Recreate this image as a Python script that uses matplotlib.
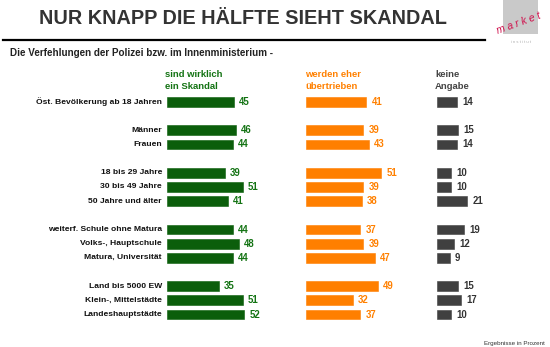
import matplotlib.pyplot as plt

plt.rcParams['font.family'] = ['Liberation Sans', 'DejaVu Sans']

# Zeilen (leere Strings = Abstand zwischen den Gruppen)
kategorien = ["Öst. Bevölkerung ab 18 Jahren", "",
              "Männer", "Frauen", "",
              "18 bis 29 Jahre", "30 bis 49 Jahre", "50 Jahre und älter", "",
              "weiterf. Schule ohne Matura", "Volks-, Hauptschule", "Matura, Universität", "",
              "Land bis 5000 EW", "Klein-, Mittelstädte", "Landeshauptstädte"]
skandal = [45, None, 46, 44, None, 39, 51, 41, None, 44, 48, 44, None, 35, 51, 52]
uebertrieben = [41, None, 39, 43, None, 51, 39, 38, None, 37, 39, 47, None, 49, 32, 37]
keine_angabe = [14, None, 15, 14, None, 10, 10, 21, None, 19, 12, 9, None, 15, 17, 10]

W, H = 550, 347
fig = plt.figure(figsize=(W / 100, H / 100), dpi=100)


def fx(x):
    return x / W


def fy(y):
    return 1 - y / H


# Titel, Linie, Untertitel
fig.text(fx(242.5), fy(18), "NUR KNAPP DIE HÄLFTE SIEHT SKANDAL", ha='center', va='center',
         fontsize=14.3, fontweight='bold', color='#333333')
fig.add_artist(plt.Line2D([fx(3), fx(485)], [fy(39.5), fy(39.5)], color='black', lw=1.6))
fig.text(fx(10), fy(53), "Die Verfehlungen der Polizei bzw. im Innenministerium -", ha='left', va='center',
         fontsize=7.1, fontweight='bold', color='#222222')

# Logo
fig.add_artist(plt.Rectangle((fx(503), fy(34)), fx(35), 34 / H, color='#c9c9c9', lw=0))
fig.text(fx(519), fy(23), "m a r k e t", ha='center', va='center', fontsize=7.5, style='italic',
         color='#d0104c', rotation=20)
fig.text(fx(521), fy(42), "i n s t i t u t", ha='center', va='center', fontsize=3, color='#aaaaaa')

spalten = [
    (skandal, 167, 1.49, '#0b5e0b', '#137313', "sind wirklich\nein Skandal", 165),
    (uebertrieben, 305.7, 1.48, '#ff7f00', '#ff8000', "werden eher\nübertrieben", 305),
    (keine_angabe, 436.7, 1.45, '#404040', '#333333', "keine\nAngabe", 435),
]

top, bottom = 94.9, 321.6
n = len(kategorien)
for idx, (werte, links, skala, farbe, textfarbe, kopf, kopf_x) in enumerate(spalten):
    breite = 100
    ax = fig.add_axes([fx(links), fy(bottom), breite / W, (bottom - top) / H])
    pos = [i for i, v in enumerate(werte) if v is not None]
    vals = [werte[i] for i in pos]
    ax.barh(pos, vals, height=0.7, color=farbe, edgecolor=farbe, lw=0.4)
    for p, v in zip(pos, vals):
        ax.text(v + 5 / skala, p, str(v), va='center', ha='left', fontsize=6.9,
                fontweight='bold', color=textfarbe)
    ax.set_xlim(0, breite / skala)
    ax.set_ylim(n - 0.5, -0.5)
    ax.axis('off')
    fig.text(fx(kopf_x), fy(80.5), kopf, ha='left', va='center', fontsize=6.8,
             fontweight='bold', color=textfarbe if idx < 2 else '#444444', linespacing=1.35)
    if idx == 0:
        for i, k in enumerate(kategorien):
            if k:
                ax.text(-5 / skala, i, k, ha='right', va='center', fontsize=6.1,
                        fontweight='bold', color='#111111', clip_on=False)

fig.text(fx(545), fy(343), "Ergebnisse in Prozent", ha='right', va='center', fontsize=4.5, color='#333333')

fig.savefig("out.png", dpi=100)
